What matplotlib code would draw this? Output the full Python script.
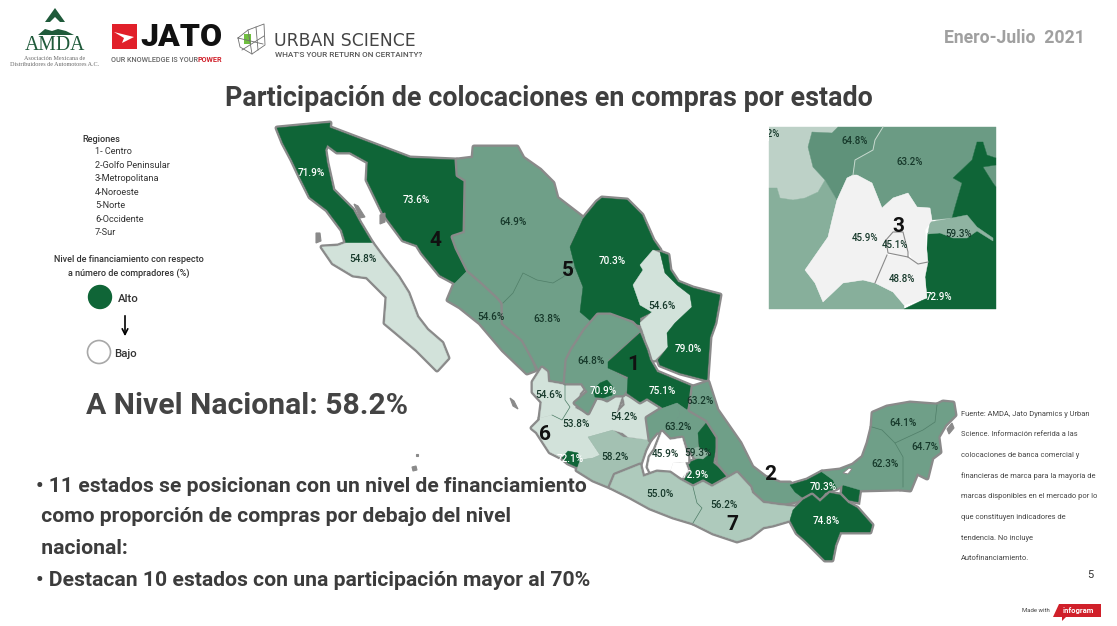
import matplotlib
matplotlib.use('Agg')
import matplotlib.pyplot as plt
from matplotlib.patches import Polygon, Circle, Rectangle

plt.rcParams['font.family'] = ['Roboto', 'DejaVu Sans']

# chart values
state_names = ['BC', 'BCS', 'SON', 'SIN', 'CHIH', 'DUR', 'COAH', 'NL', 'TAM', 'ZAC', 'AGS', 'SLP', 'QRO', 'HGO',
               'PUE', 'TLAX', 'NAY', 'JAL', 'COL', 'MICH', 'GTO', 'MEX', 'MOR', 'GRO', 'OAX', 'CHIS', 'VER', 'TAB',
               'CAMP', 'YUC', 'QROO']
state_values = [71.9, 54.8, 73.6, 54.6, 64.9, 63.8, 70.3, 54.6, 79.0, 64.8, 70.9, 75.1, 63.2, 63.2,
                72.9, 59.3, 54.6, 53.8, 72.1, 58.2, 54.2, 45.9, 48.8, 55.0, 56.2, 74.8, 63.2, 70.3,
                62.3, 64.1, 64.7]
region_names = ['1- Centro', '2-Golfo Peninsular', '3-Metropolitana', '4-Noroeste', '5-Norte', '6-Occidente', '7-Sur']
national_value = 58.2

# no map data offline, so state outlines are traced off the picture (pixels)
outlines = {
    'BC': [(277,128),(330,123),(328,143),(325,150),(327,163),(333,190),(353,210),(360,223),(372,243),(346,243),(342,230),(327,210),(310,197),(300,177),(292,160),(283,143)],
    'SON': [(328,127),(410,158),(457,160),(458,175),(466,180),(465,233),(453,237),(457,248),(468,270),(455,283),(440,275),(422,253),(417,245),(403,240),(383,213),(367,180),(368,162),(350,152),(337,152),(325,143)],
    'BCS': [(322,247),(338,246),(346,243),(372,243),(383,258),(398,277),(408,293),(417,317),(427,330),(442,343),(448,358),(437,370),(417,350),(397,333),(385,323),(387,297),(367,277),(353,275),(333,263)],
    'CHIH': [(473,158),(474,147),(517,147),(523,158),(540,170),(553,183),(557,198),(583,218),(570,245),(575,267),(563,277),(553,283),(537,280),(523,273),(513,293),(503,303),(498,297),(483,283),(468,270),(457,248),(453,237),(465,233),(466,180),(458,175),(457,160)],
    'SIN': [(468,270),(483,283),(500,302),(503,323),(523,340),(535,370),(527,373),(503,350),(480,323),(460,307),(448,300),(455,283)],
    'DUR': [(503,303),(513,293),(523,273),(537,280),(553,283),(563,277),(575,267),(583,287),(580,312),(593,323),(583,330),(572,350),(567,360),(565,383),(545,385),(540,372),(535,362),(523,340),(503,323)],
    'COAH': [(583,219),(597,202),(602,198),(627,200),(642,215),(653,240),(660,250),(653,250),(640,265),(643,270),(633,285),(640,305),(652,312),(640,318),(640,325),(632,323),(610,315),(598,315),(593,323),(580,312),(583,287),(575,267),(570,247),(577,232)],
    'NL': [(653,250),(660,253),(665,273),(677,285),(690,295),(692,307),(675,323),(667,333),(668,347),(655,360),(648,360),(645,337),(640,323),(652,312),(640,305),(633,285),(643,270),(640,265)],
    'TAM': [(660,252),(668,255),(670,270),(678,282),(693,288),(720,295),(715,323),(710,337),(707,380),(680,373),(660,365),(658,360),(668,347),(667,333),(675,323),(692,307),(690,295),(677,285),(665,273)],
    'ZAC': [(598,315),(610,315),(632,323),(640,331),(608,360),(612,370),(628,380),(627,390),(623,395),(615,395),(607,400),(597,395),(588,413),(575,403),(588,392),(582,383),(565,383),(567,360),(572,350),(585,330)],
    'AGS': [(593,390),(600,383),(607,380),(613,387),(612,395),(603,398),(595,397)],
    'SLP': [(608,362),(640,333),(647,350),(650,360),(657,372),(693,387),(687,410),(677,403),(663,408),(647,398),(640,402),(627,393),(628,377),(608,368)],
    'QRO': [(647,418),(663,408),(677,403),(680,415),(672,425),(663,433),(657,432),(650,440)],
    'HGO': [(677,403),(687,410),(690,408),(700,413),(707,420),(698,433),(698,447),(690,450),(682,440),(670,440),(663,433),(672,425),(680,415)],
    'PUE': [(707,422),(718,437),(713,463),(730,477),(712,487),(703,482),(692,487),(680,480),(688,463),(700,458),(698,433)],
    'TLAX': [(690,450),(698,447),(710,453),(703,459),(695,458)],
    'NAY': [(533,382),(542,368),(547,372),(548,382),(565,385),(565,400),(570,407),(562,420),(552,415),(540,418),(542,402),(533,392)],
    'JAL': [(540,418),(552,415),(562,420),(570,407),(565,400),(565,385),(587,385),(580,393),(575,408),(588,415),(593,393),(603,398),(623,393),(613,423),(613,430),(588,437),(600,455),(593,458),(580,460),(578,453),(570,452),(560,457),(550,452),(537,432),(532,428),(540,420)],
    'COL': [(562,458),(568,451),(578,453),(580,462),(577,467),(568,463)],
    'MICH': [(588,437),(613,430),(623,437),(650,440),(645,450),(640,465),(615,473),(610,487),(593,480),(577,470),(580,460),(593,458),(600,455)],
    'GTO': [(623,395),(640,402),(647,398),(663,408),(647,418),(650,440),(628,437),(623,433),(613,430),(612,418),(625,405)],
    'MEX': [(662,432),(670,440),(682,438),(685,448),(688,457),(688,462),(680,462),(673,463),(670,472),(657,472),(652,475),(648,467),(650,457),(655,450)],
    'MOR': [(673,463),(685,462),(688,470),(682,478),(675,475),(670,472)],
    'GRO': [(615,475),(640,465),(643,477),(657,472),(670,473),(680,480),(693,487),(697,503),(702,508),(693,523),(673,517),(650,508),(630,497),(610,487)],
    'OAX': [(693,487),(703,482),(712,487),(730,477),(737,473),(750,487),(752,493),(763,503),(777,505),(795,507),(790,520),(773,525),(763,527),(750,537),(737,541),(713,533),(693,523),(702,508),(697,503)],
    'CHIS': [(790,520),(793,510),(803,500),(812,495),(820,502),(830,493),(840,495),(848,503),(857,508),(872,525),(870,532),(840,532),(835,545),(832,560),(825,560),(805,540),(797,533)],
    'VER': [(693,387),(708,382),(717,410),(740,443),(752,467),(765,477),(780,483),(790,483),(802,500),(777,505),(763,503),(752,493),(750,487),(730,477),(718,463),(718,437),(707,420),(690,410)],
    'TAB': [(790,485),(807,480),(822,472),(833,480),(837,488),(825,493),(820,500),(812,495),(803,498),(795,492)],
    'CAMP': [(872,427),(882,430),(897,443),(903,457),(903,487),(900,489),(860,490),(843,485),(837,488),(833,480),(822,472),(840,470),(853,465),(863,457),(868,443)],
    'YUC': [(872,427),(873,413),(887,407),(910,403),(937,405),(935,422),(923,430),(895,443),(882,430)],
    'QROO': [(937,405),(943,402),(953,403),(955,415),(945,425),(938,437),(940,452),(932,458),(927,478),(917,473),(910,490),(900,489),(903,487),(903,457),(895,443),(923,430),(935,422)],
}
tab_east = [(843,485),(860,488),(858,502),(848,500),(842,493)]

# thin lines between states of one region
inner_borders = [
    [(503,303),(513,293),(523,273),(537,280),(553,283),(563,277),(575,267)],
    [(872,427),(882,430),(895,443),(903,457),(903,487)],
    [(895,443),(923,430),(935,422),(937,405)],
    [(693,487),(697,503),(702,508),(693,523)],
    [(552,415),(562,420),(570,407),(565,400),(565,385)],
]

fills = {'BC': '#0f6537', 'SON': '#0f6537', 'BCS': '#d2e2da', 'CHIH': '#6f9f88', 'SIN': '#6f9f88', 'DUR': '#6f9f88',
         'COAH': '#0f6537', 'NL': '#d2e2da', 'TAM': '#0f6537', 'ZAC': '#6f9f88', 'AGS': '#0f6537', 'SLP': '#0f6537',
         'QRO': '#6f9f88', 'HGO': '#6f9f88', 'PUE': '#0f6537', 'TLAX': '#8fb3a1', 'NAY': '#d2e2da', 'JAL': '#d2e2da',
         'COL': '#0f6537', 'MICH': '#a3c1b2', 'GTO': '#d2e2da', 'MEX': '#ffffff', 'MOR': '#ffffff', 'GRO': '#aecabc',
         'OAX': '#aecabc', 'CHIS': '#0f6537', 'VER': '#6f9f88', 'TAB': '#0f6537', 'CAMP': '#6f9f88', 'YUC': '#6f9f88',
         'QROO': '#6f9f88'}

regions = [['BC', 'SON', 'SIN', 'BCS'], ['CHIH', 'DUR', 'COAH', 'NL', 'TAM'], ['NAY', 'JAL', 'COL', 'MICH', 'GTO'],
           ['ZAC', 'AGS', 'SLP', 'QRO', 'HGO', 'PUE', 'TLAX'], ['MEX', 'MOR'], ['VER', 'TAB', 'CAMP', 'YUC', 'QROO'],
           ['GRO', 'OAX', 'CHIS']]

label_pos = {'BC': (311,173), 'SON': (416,200), 'BCS': (363,259), 'CHIH': (513,222), 'SIN': (491,317), 'DUR': (547,319),
             'COAH': (612,261), 'NL': (662,306), 'TAM': (688,349), 'ZAC': (591,361), 'AGS': (603,391), 'SLP': (662,391),
             'NAY': (549,395), 'JAL': (576,424), 'COL': (570,459), 'MICH': (615,457), 'GTO': (624,417), 'QRO': (678,427),
             'VER': (700,401), 'MEX': (665,454), 'TLAX': (698,453), 'PUE': (695,475), 'GRO': (660,494), 'OAX': (724,505),
             'CHIS': (826,521), 'TAB': (823,487), 'CAMP': (885,464), 'YUC': (903,423), 'QROO': (925,447)}

fig = plt.figure(figsize=(11.17, 6.26), dpi=100)
ax = fig.add_axes([0, 0, 1, 1])
ax.set_xlim(0, 1117)
ax.set_ylim(626, 0)
ax.axis('off')

# map: thick gray under each region, then the fills leave only its outer rim
for region in regions:
    for st in region:
        ax.add_patch(Polygon(outlines[st], closed=True, fc='#8a8a8a', ec='#8a8a8a', lw=3.6, joinstyle='round', zorder=2))
        if st == 'TAB':
            ax.add_patch(Polygon(tab_east, closed=True, fc='#8a8a8a', ec='#8a8a8a', lw=3.6, zorder=2))
    for st in region:
        ax.add_patch(Polygon(outlines[st], closed=True, fc=fills[st], ec=fills[st], lw=0.3, zorder=2))
        if st == 'TAB':
            ax.add_patch(Polygon(tab_east, closed=True, fc=fills[st], ec=fills[st], lw=0.3, zorder=2))

for border in inner_borders:
    ax.plot([p[0] for p in border], [p[1] for p in border], color='#4f7f68', lw=0.5, zorder=2.2)

# islands
islands = [[(316,233),(320,233),(321,241),(316,243)], [(354,204),(358,206),(365,217),(360,218)],
           [(380,215),(385,213),(385,222),(380,224)], [(510,398),(514,401),(518,409),(513,406)],
           [(947,429),(952,423),(954,428),(949,434)], [(412,467),(416,466),(417,470),(413,471)],
           [(416,454),(418,454),(418,456),(416,456)]]
for isl in islands:
    ax.add_patch(Polygon(isl, closed=True, fc='#8a8a8a', ec='#8a8a8a', lw=0.8, zorder=2))
ax.add_patch(Polygon([(843,473),(849,468),(852,469),(848,474)], closed=True, fc='white', ec='#8a8a8a', lw=0.8, zorder=2.3))

for st, val in zip(state_names, state_values):
    if st in label_pos:
        color = 'white' if val >= 70 else '#16382a'
        ax.text(*label_pos[st], f'{val:.1f}%', color=color, fontsize=7.2, fontweight='medium',
                ha='center', va='center', zorder=4)

region_num_pos = [(633,364), (770,474), (898,226), (435,241), (568,270), (545,434), (732,525)]
for i, (x, y) in enumerate(region_num_pos):
    ax.text(x, y, str(i + 1), fontsize=15, fontweight='bold', color='#111111', ha='center', va='center', zorder=5)

# inset of the metropolitan area
inset_shapes = [
    ('#bdd1c7', [(769,127),(838,127),(832,133),(812,132),(808,147),(813,167),(825,180),(818,192),(805,198),(793,200),(780,198),(777,188),(769,188)]),
    ('#87af9b', [(769,188),(777,188),(780,198),(793,200),(805,198),(818,192),(825,180),(837,200),(832,220),(828,237),(805,270),(815,283),(823,302),(843,283),(863,280),(875,283),(893,292),(904,305),(904,309),(769,309)]),
    ('#5f927a', [(812,132),(832,133),(838,127),(883,127),(875,140),(873,150),(855,160),(853,175),(847,178),(837,200),(825,180),(813,167),(808,147)]),
    ('#6b9b84', [(883,127),(996,127),(996,158),(987,155),(983,142),(977,142),(972,160),(953,178),(962,183),(955,207),(952,218),(932,220),(930,208),(917,207),(908,193),(893,198),(882,208),(872,183),(857,175),(853,175),(855,160),(873,150),(875,140)]),
    ('#6b9b84', [(996,165),(983,167),(993,183),(996,187)]),
    ('#0f6537', [(977,142),(983,142),(987,155),(996,158),(996,165),(983,167),(993,183),(996,187),(996,309),(904,309),(927,298),(925,277),(928,233),(952,218),(955,207),(962,183),(953,178),(972,160)]),
    ('#8fb3a1', [(930,222),(952,218),(967,215),(977,227),(993,238),(993,241),(977,231),(967,238),(953,238),(940,233),(928,234)]),
    ('#f2f2f2', [(847,178),(853,175),(857,175),(872,183),(882,208),(893,198),(908,193),(917,207),(930,208),(932,220),(925,230),(928,262),(917,265),(910,255),(903,237),(893,232),(886,240),(887,263),(875,283),(863,280),(843,283),(823,302),(815,283),(805,270),(828,237),(832,220),(837,200)]),
    ('#f2f2f2', [(886,240),(893,232),(903,232),(908,252),(908,257),(888,253)]),
    ('#f2f2f2', [(887,255),(908,257),(918,264),(928,262),(925,277),(927,298),(904,305),(893,292),(875,283),(887,263)]),
]
for color, pts in inset_shapes:
    ax.add_patch(Polygon(pts, closed=True, fc=color, ec=color, lw=0.3, zorder=2))
ax.plot([886,893,903,908,908,888,886], [240,232,232,252,257,253,240], color='#8a8a8a', lw=0.8, zorder=2.5)
ax.plot([887,875], [255,283], color='#8a8a8a', lw=0.8, zorder=2.5)
ax.plot([908,918,928], [257,264,262], color='#8a8a8a', lw=0.8, zorder=2.5)
ax.plot([883,875,873,855,853], [127,140,150,160,175], color='#c5d8cd', lw=0.7, zorder=2.5)

inset_labels = [('54.2%', 767, 134, '#16382a'), ('64.8%', 855, 141, '#16382a'), ('63.2%', 910, 162, '#16382a'),
                ('45.9%', 865, 238, '#16382a'), ('45.1%', 895, 245, '#16382a'), ('59.3%', 959, 234, '#16382a'),
                ('48.8%', 902, 279, '#16382a'), ('72.9%', 939, 297, 'white')]
for txt, x, y, color in inset_labels:
    ax.text(x, y, txt, fontsize=7, fontweight='medium', color=color, ha='center', va='center', zorder=4)
# the first label runs off the inset's left edge in the original
ax.add_patch(Rectangle((748, 127), 21, 14, fc='white', ec='none', zorder=4.5))

# titles
ax.text(549, 98, 'Participación de colocaciones en compras por estado', fontsize=19.4, fontweight='bold',
        color='#3f3f3f', ha='center', va='center')
ax.text(1085, 38, 'Enero-Julio  2021', fontsize=12.7, fontweight='bold', color='#a0a0a0', ha='right', va='center')
ax.text(86, 406, f'A Nivel Nacional: {national_value}%', fontsize=21.7, fontweight='bold', color='#444444', va='center')

# legend block
ax.text(82, 139, 'Regiones', fontsize=6.6, fontweight='medium', color='#333333', va='center')
for i, name in enumerate(region_names):
    ax.text(95, 152 + i * 13.4, name, fontsize=6.6, color='#333333', va='center')
ax.text(129, 260, 'Nivel de financiamiento con respecto', fontsize=6.5, fontweight='medium', color='#333333', ha='center', va='center')
ax.text(129, 273, 'a número de compradores (%)', fontsize=6.5, fontweight='medium', color='#333333', ha='center', va='center')
ax.add_patch(Circle((100, 297), 11.5, fc='#0f6537', ec='#0f6537'))
ax.add_patch(Circle((99, 352), 11.5, fc='white', ec='#a8a8a8', lw=1.2))
ax.text(118, 299, 'Alto', fontsize=8.2, fontweight='medium', color='#333333', va='center')
ax.text(114, 354, 'Bajo', fontsize=8.2, fontweight='medium', color='#333333', va='center')
ax.annotate('', xy=(125, 339), xytext=(125, 313), arrowprops=dict(arrowstyle='->', color='black', lw=1.2))

# body text
body_lines = ['• 11 estados se posicionan con un nivel de financiamiento', ' como proporción de compras por debajo del nivel',
              ' nacional:', '• Destacan 10 estados con una participación mayor al 70%']
for line, y in zip(body_lines, [486, 517, 549, 580]):
    ax.text(36, y, line, fontsize=15.2, fontweight='bold', color='#3c3c3c', va='center', zorder=6)

# source note
source_lines = ['Fuente: AMDA, Jato Dynamics y Urban', 'Science. Información referida a las', 'colocaciones de banca comercial y',
                'financieras de marca para la mayoría de', 'marcas disponibles en el mercado por lo',
                'que constituyen indicadores de', 'tendencia. No incluye', 'Autofinanciamiento.']
for i, line in enumerate(source_lines):
    ax.text(961, 414 + i * 20.7, line, fontsize=5.4, color='#444444', va='center')
ax.text(1090, 575, '5', fontsize=8, color='#333333', ha='center', va='center')
ax.text(1036, 610, 'Made with', fontsize=4.3, color='#444444', ha='center', va='center')
ax.add_patch(Polygon([(1059,604),(1101,604),(1101,617),(1066,617),(1062,621),(1062,617),(1053,617)], closed=True, fc='#d0202a', ec='none'))
ax.text(1078, 610, 'infogram', fontsize=5.6, fontweight='bold', color='white', ha='center', va='center')

# AMDA logo
ax.add_patch(Polygon([(55,8),(65,22),(60,22),(55,17),(50,22),(45,22)], closed=True, fc='#1f5a3a', ec='none'))
ax.add_patch(Polygon([(38,35),(45,29),(52,31),(58,29),(66,31),(74,35)], closed=True, fc='#1f5a3a', ec='none'))
ax.text(55, 45, 'AMDA', fontsize=14.2, family='Liberation Serif', color='#1f5a3a', ha='center', va='center')
ax.text(55, 58, 'Asociación Mexicana de', fontsize=4.4, family='Liberation Serif', color='#6a6a6a', ha='center', va='center')
ax.text(55, 65, 'Distribuidores de Automotores A.C.', fontsize=4.4, family='Liberation Serif', color='#6a6a6a', ha='center', va='center')

# JATO logo
ax.add_patch(Rectangle((112, 24), 25, 25, fc='#e1202a', ec='none'))
ax.add_patch(Polygon([(114,32),(134,37),(122,43),(124,38)], closed=True, fc='white', ec='none'))
ax.text(181, 36.5, 'JATO', fontsize=23, fontweight='black', color='#111111', ha='center', va='center')
ax.text(111, 60, 'OUR KNOWLEDGE IS YOUR', fontsize=5.2, fontweight='medium', color='#666666', va='center')
ax.text(198, 60, 'POWER', fontsize=5.2, fontweight='bold', color='#d0202a', va='center')

# Urban Science logo
for pts in [[(238,38),(248,30),(264,24),(265,45),(252,54),(240,47),(238,38)], [(248,30),(252,54)], [(256,27),(258,50)], [(238,38),(263,44)], [(242,50),(264,36)]]:
    ax.plot([p[0] for p in pts], [p[1] for p in pts], color='#6f6f6f', lw=0.6)
ax.add_patch(Rectangle((244, 34), 7, 10, fc='#6fbf3f', ec='none'))
ax.text(274, 41, 'URBAN SCIENCE', fontsize=12.4, family='DejaVu Sans', color='#444444', va='center')
ax.text(275, 55, "WHAT'S YOUR RETURN ON CERTAINTY?", fontsize=5.9, fontweight='medium', color='#555555', va='center')

fig.savefig('out.png', dpi=100)
